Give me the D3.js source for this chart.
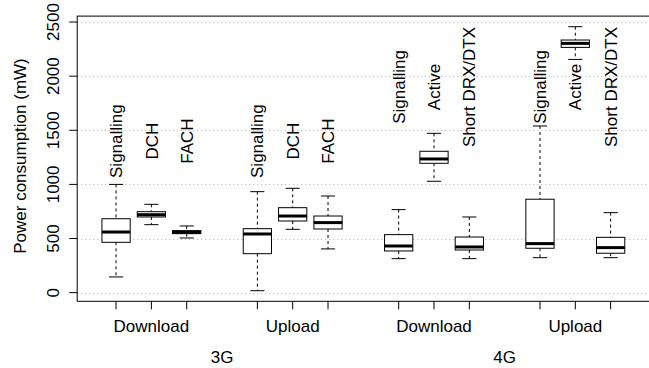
<!DOCTYPE html>
<html>
<head>
<meta charset="utf-8">
<script src="https://cdn.jsdelivr.net/npm/d3@7"></script>
<style>
  body { margin: 0; background: #fff; }
  text { font-family: "Liberation Sans", Arial, Helvetica, sans-serif; fill: #000; }
</style>
</head>
<body>
<script>
// box stats (mW)
var states = ["Signalling", "DCH", "FACH", "Signalling", "DCH", "FACH",
  "Signalling", "Active", "Short DRX/DTX", "Signalling", "Active", "Short DRX/DTX"];
var positions = [1, 2, 3, 5, 6, 7, 9, 10, 11, 13, 14, 15];
var networkOf = ["3G", "3G", "3G", "3G", "3G", "3G", "4G", "4G", "4G", "4G", "4G", "4G"];
var whiskerLow = [145, 628, 505, 18, 585, 404, 314, 1029, 314, 323, 2155, 323];
var q1 = [465, 699, 545, 360, 662, 588, 385, 1195, 394, 410, 2266, 364];
var median = [560, 720, 558, 542, 708, 647, 431, 1235, 422, 453, 2303, 416];
var q3 = [683, 748, 573, 591, 785, 708, 536, 1306, 514, 863, 2334, 511];
var whiskerHigh = [1000, 816, 616, 933, 964, 893, 767, 1472, 699, 1540, 2457, 739];

var directions = ["Download", "Upload", "Download", "Upload"];
var directionPos = [2, 6, 10, 14];
var networks = ["3G", "4G"];
var networkPos = [4, 12];
var labelLevel = { "3G": 1400, "4G": 1900 };
var yTicks = [0, 500, 1000, 1500, 2000, 2500];

var svgWidth = 649;
var svgHeight = 368;
var fontSize = 17;

var svg = d3.select("body")
  .append("svg")
  .attr("width", svgWidth)
  .attr("height", svgHeight);

var x = d3.scaleLinear().domain([-0.1, 16.1]).range([77.2, 649.5]);
var y = d3.scaleLinear().domain([-80, 2555]).range([301.3, 16.1]);

var boxes = positions.map(function(p, i) {
  return { pos: p, state: states[i], net: networkOf[i],
    lo: whiskerLow[i], q1: q1[i], med: median[i], q3: q3[i], hi: whiskerHigh[i] };
});

// dotted grid
svg.append("g")
  .selectAll("line")
  .data(yTicks)
  .enter()
  .append("line")
  .attr("x1", x(-0.1))
  .attr("x2", x(16.1))
  .attr("y1", d => Math.round(y(d)) + 0.5)
  .attr("y2", d => Math.round(y(d)) + 0.5)
  .attr("stroke", "#b0b0b0")
  .attr("stroke-dasharray", "1,3");

var unit = x(1) - x(0);
var boxW = 0.8 * unit;
var capW = 0.4 * unit;

var g = svg.append("g")
  .selectAll("g")
  .data(boxes)
  .enter()
  .append("g");

// whiskers
g.append("line")
  .attr("x1", d => x(d.pos)).attr("x2", d => x(d.pos))
  .attr("y1", d => y(d.hi)).attr("y2", d => y(d.q3))
  .attr("stroke", "#000").attr("stroke-dasharray", "3,3");
g.append("line")
  .attr("x1", d => x(d.pos)).attr("x2", d => x(d.pos))
  .attr("y1", d => y(d.q1)).attr("y2", d => y(d.lo))
  .attr("stroke", "#000").attr("stroke-dasharray", "3,3");
// staples
g.append("line")
  .attr("x1", d => x(d.pos) - capW / 2).attr("x2", d => x(d.pos) + capW / 2)
  .attr("y1", d => y(d.hi)).attr("y2", d => y(d.hi))
  .attr("stroke", "#000");
g.append("line")
  .attr("x1", d => x(d.pos) - capW / 2).attr("x2", d => x(d.pos) + capW / 2)
  .attr("y1", d => y(d.lo)).attr("y2", d => y(d.lo))
  .attr("stroke", "#000");
// box
g.append("rect")
  .attr("x", d => x(d.pos) - boxW / 2)
  .attr("y", d => y(d.q3))
  .attr("width", boxW)
  .attr("height", d => y(d.q1) - y(d.q3))
  .attr("fill", "#fff")
  .attr("stroke", "#000");
// median
g.append("line")
  .attr("x1", d => x(d.pos) - boxW / 2).attr("x2", d => x(d.pos) + boxW / 2)
  .attr("y1", d => y(d.med)).attr("y2", d => y(d.med))
  .attr("stroke", "#000").attr("stroke-width", 3);

// state labels
g.append("text")
  .attr("transform", d => "translate(" + x(d.pos) + "," + y(labelLevel[d.net]) + ") rotate(-90)")
  .attr("text-anchor", "middle")
  .attr("dy", "0.36em")
  .style("font-size", fontSize + "px")
  .text(d => d.state);

// frame
svg.append("rect")
  .attr("x", x(-0.1)).attr("y", y(2555))
  .attr("width", x(16.1) - x(-0.1))
  .attr("height", y(-80) - y(2555))
  .attr("fill", "none")
  .attr("stroke", "#000");

// y axis
var yAxis = svg.append("g");
yAxis.selectAll("line")
  .data(yTicks)
  .enter()
  .append("line")
  .attr("x1", x(-0.1) - 8).attr("x2", x(-0.1))
  .attr("y1", d => y(d)).attr("y2", d => y(d))
  .attr("stroke", "#000");
yAxis.selectAll("text")
  .data(yTicks)
  .enter()
  .append("text")
  .attr("transform", d => "translate(59," + y(d) + ") rotate(-90)")
  .attr("text-anchor", "middle")
  .style("font-size", fontSize + "px")
  .text(d => d);

svg.append("text")
  .attr("transform", "translate(25.5,156) rotate(-90)")
  .attr("text-anchor", "middle")
  .style("font-size", fontSize + "px")
  .text("Power consumption (mW)");

// x axis ticks
svg.append("g")
  .selectAll("line")
  .data(positions)
  .enter()
  .append("line")
  .attr("x1", d => x(d)).attr("x2", d => x(d))
  .attr("y1", y(-80)).attr("y2", y(-80) + 8)
  .attr("stroke", "#000");

svg.append("g")
  .selectAll("text")
  .data(directions)
  .enter()
  .append("text")
  .attr("x", (d, i) => x(directionPos[i]))
  .attr("y", 331.7)
  .attr("text-anchor", "middle")
  .style("font-size", fontSize + "px")
  .text(d => d);

svg.append("g")
  .selectAll("text")
  .data(networks)
  .enter()
  .append("text")
  .attr("x", (d, i) => x(networkPos[i]))
  .attr("y", 363)
  .attr("text-anchor", "middle")
  .style("font-size", fontSize + "px")
  .text(d => d);
</script>
</body>
</html>
